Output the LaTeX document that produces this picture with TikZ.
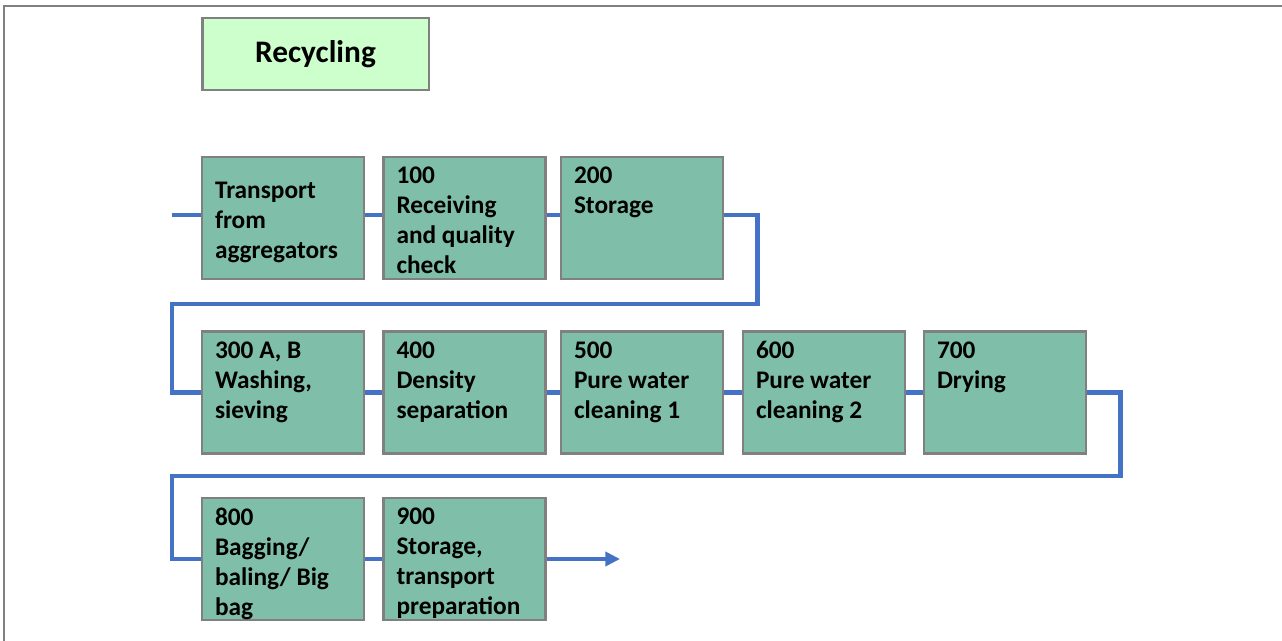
\documentclass[tikz,border=0pt]{standalone}
\usepackage{fontspec}
\setmainfont{Carlito}
\usepackage{xcolor}
\usepackage{tikz}
\usetikzlibrary{arrows.meta,positioning}
\definecolor{flowblue}{HTML}{4472C4}
\definecolor{stagefill}{HTML}{7FBFA9}
\definecolor{titlefill}{HTML}{CCFFCC}
\definecolor{edgegray}{HTML}{808080}
\tikzset{
  flow/.style={line width=3.6pt,flowblue},
  stage/.style={draw=edgegray,line width=2pt,fill=stagefill,minimum width=121.5pt,minimum height=91.5pt,inner sep=0pt,font=\bfseries\fontsize{19}{22.5}\selectfont},
  titlebox/.style={draw=edgegray,line width=2pt,fill=titlefill,minimum width=170pt,minimum height=54pt,inner sep=0pt,font=\bfseries\fontsize{23.5}{28}\selectfont}
}
\newcommand{\stxt}[2][t]{\parbox[c][76.5pt][#1]{102pt}{\raggedright #2}}

\begin{document}
\begin{tikzpicture}[x=0.75pt,y=-0.75pt]
\useasboundingbox (0,0) rectangle (1282,641);
\draw[edgegray,line width=1.2pt] (4,641)--(4,6)--(1282,6);
\node[titlebox] (title) at (315.5,54) {Recycling};
% row 1
\node[stage] (trans) at (283,218) {\stxt[c]{\vspace*{6pt}Transport\\from\\aggregators}};
\node[stage] (s100) at (464.5,218) {\stxt{100\\Receiving\\and quality\\check}};
\node[stage] (s200) at (642,218) {\stxt{200\\Storage}};
% row 2
\node[stage] (s300) at (283,392.5) {\stxt{300 A, B\\Washing,\\sieving}};
\node[stage] (s400) at (464.5,392.5) {\stxt{400\\Density\\separation}};
\node[stage] (s500) at (642,392.5) {\stxt{500\\Pure water\\cleaning 1}};
\node[stage] (s600) at (824,392.5) {\stxt{600\\Pure water\\cleaning 2}};
\node[stage] (s700) at (1005,392.5) {\stxt{700\\Drying}};
% row 3
\node[stage] (s800) at (283,559) {\stxt{800\\Bagging/\\baling/ Big\\bag}};
\node[stage] (s900) at (464.5,559) {\stxt{900\\Storage,\\transport\\preparation}};
% connectors
\coordinate (in) at (172,215);
\coordinate (turnA) at (172,304);
\coordinate (turnB) at (172,476);
\coordinate (out) at (620,559);
\draw[flow] (in)--(in-|trans.west);
\draw[flow] (trans.east|-in)--(s100.west|-in);
\draw[flow] (s100.east|-in)--(s200.west|-in);
\draw[flow] (s200.east|-in)--++(33,0) |- (turnA) |- (s300.west);
\foreach \a/\b in {s300/s400,s400/s500,s500/s600,s600/s700}
  \draw[flow] (\a)--(\b);
\draw[flow] (s700.east)--++(33,0) |- (turnB) |- (s800.west);
\draw[flow] (s800)--(s900);
\draw[flow,-{Triangle[length=11pt,width=10.5pt]}] (s900)--(out);
\end{tikzpicture}
\end{document}
